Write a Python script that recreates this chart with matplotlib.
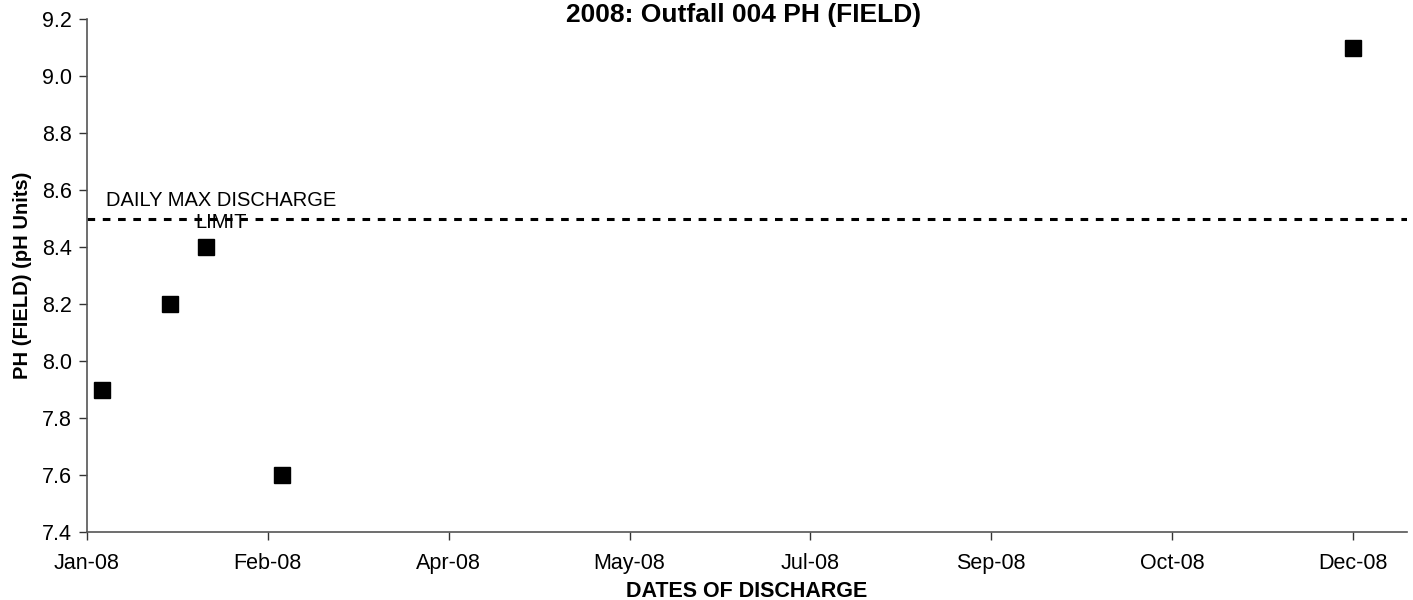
import matplotlib
matplotlib.use("Agg")
import matplotlib.pyplot as plt
import matplotlib.dates as mdates
import datetime as dt

plt.rcParams['font.family'] = ['Liberation Sans', 'DejaVu Sans']

dates = ["2008-01-05", "2008-01-24", "2008-02-03", "2008-02-24", "2008-12-16"]
ph_values = [7.9, 8.2, 8.4, 7.6, 9.1]
limit_value = 8.5
limit_label = "DAILY MAX DISCHARGE\nLIMIT"
title = "2008: Outfall 004 PH (FIELD)"
xlabel = "DATES OF DISCHARGE"
ylabel = "PH (FIELD) (pH Units)"

x = [dt.datetime.strptime(d, "%Y-%m-%d") for d in dates]

fig = plt.figure(figsize=(14.13, 6.0), dpi=100)
ax = fig.add_axes([0.0616, 0.1133, 0.9342, 0.855])

ax.plot(x, ph_values, linestyle='none', marker='s', markersize=11,
        color='black', zorder=3)

xmin = dt.datetime(2008, 1, 1)
xmax = dt.datetime(2008, 12, 31)
ax.set_xlim(xmin, xmax)
ax.set_ylim(7.4, 9.2)
ax.axhline(limit_value, color='black', linestyle=(0, (2.5, 2.5)), linewidth=2.2, zorder=2)

ticks = [xmin + dt.timedelta(days=50 * i) for i in range(8)]
ax.set_xticks(ticks)
ax.xaxis.set_major_formatter(mdates.DateFormatter('%b-%y'))
ax.set_yticks([7.4 + 0.2 * i for i in range(10)])
ax.yaxis.set_major_formatter(matplotlib.ticker.FormatStrFormatter('%.1f'))

ax.text(dt.datetime(2008, 2, 7), limit_value + 0.025, limit_label, ha='center', va='center',
        fontsize=14.5, linespacing=1.2)

for s in ['top', 'right']:
    ax.spines[s].set_visible(False)
for s in ['left', 'bottom']:
    ax.spines[s].set_color('#555555')
    ax.spines[s].set_linewidth(1.2)
ax.tick_params(axis='both', direction='out', length=6, width=1, color='#333333',
               labelsize=15.5, pad=5)
ax.tick_params(axis='x', pad=9)

fig.text(744 / 1413, 1 - 22 / 600, title, ha='center', va='baseline',
         fontsize=19, fontweight='bold')
ax.set_xlabel(xlabel, fontsize=15.5, fontweight='bold', labelpad=5)
ax.set_ylabel(ylabel, fontsize=14.5, fontweight='bold', labelpad=7)

fig.savefig("out.png", dpi=100)
